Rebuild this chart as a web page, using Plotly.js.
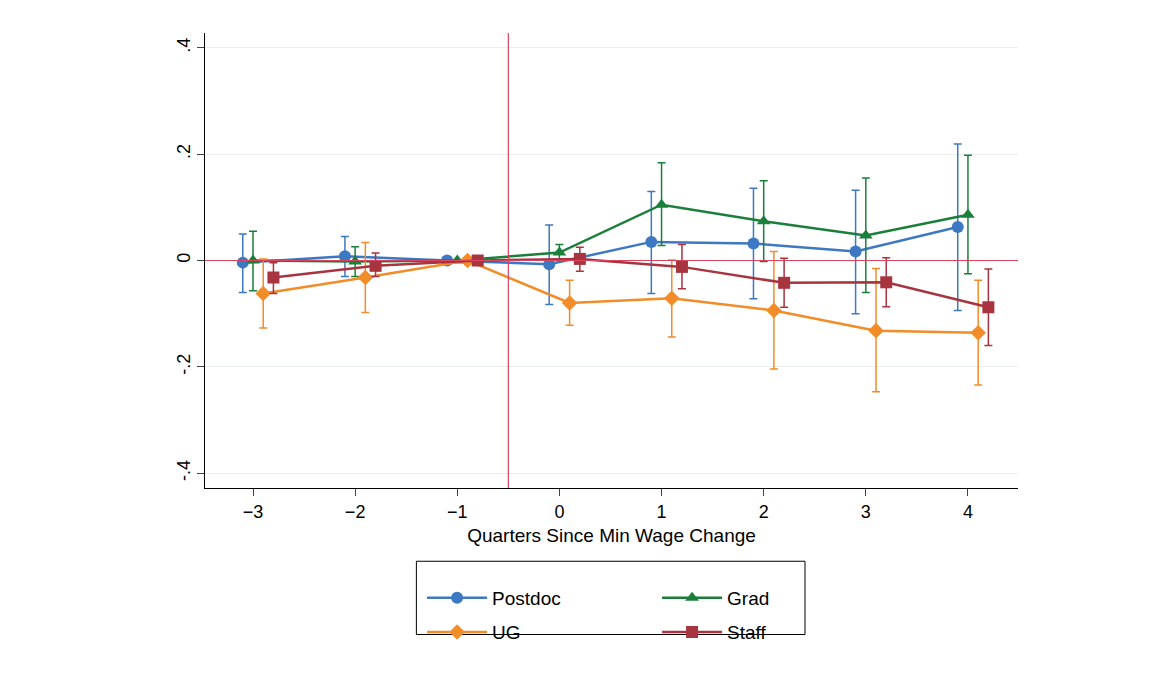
<!DOCTYPE html>
<html>
<head>
<meta charset="utf-8">
<script src="https://cdn.plot.ly/plotly-3.0.1.min.js"></script>
<style>body{margin:0;background:#fff}#chart{width:1163px;height:697px}</style>
</head>
<body>
<div id="chart"></div>
<script>
// quarters relative to the minimum wage change
const quarters = [-3, -2, -1, 0, 1, 2, 3, 4];

const postdoc   = [-0.004, 0.008, 0, -0.007, 0.035, 0.032, 0.017, 0.063];
const postdocHi = [0.050, 0.045, 0, 0.067, 0.130, 0.136, 0.132, 0.219];
const postdocLo = [-0.060, -0.030, 0, -0.083, -0.062, -0.072, -0.100, -0.094];

const grad   = [0, -0.002, 0, 0.015, 0.105, 0.074, 0.047, 0.086];
const gradHi = [0.055, 0.026, 0, 0.030, 0.184, 0.150, 0.155, 0.198];
const gradLo = [-0.057, -0.030, 0, 0.000, 0.028, -0.002, -0.060, -0.025];

const ug   = [-0.062, -0.032, 0, -0.080, -0.071, -0.094, -0.132, -0.136];
const ugHi = [0.003, 0.034, 0, -0.037, 0.001, 0.017, -0.015, -0.037];
const ugLo = [-0.127, -0.098, 0, -0.122, -0.144, -0.204, -0.247, -0.234];

const staff   = [-0.032, -0.010, 0, 0.003, -0.012, -0.042, -0.041, -0.088];
const staffHi = [-0.004, 0.014, 0, 0.025, 0.030, 0.004, 0.005, -0.016];
const staffLo = [-0.062, -0.030, 0, -0.020, -0.053, -0.088, -0.087, -0.160];

function series(name, y, hi, lo, shift, color, symbol, legend) {
  return {
    x: quarters.map(q => q + shift),
    y: y,
    name: name,
    type: 'scatter',
    mode: 'lines+markers',
    legend: legend,
    line: {color: color, width: 2.5},
    marker: {color: color, symbol: symbol, size: 12},
    error_y: {
      type: 'data', symmetric: false,
      array: hi.map((v, i) => v - y[i]),
      arrayminus: lo.map((v, i) => y[i] - v),
      color: color, thickness: 1.5, width: 4
    }
  };
}

const traces = [
  series('Postdoc', postdoc, postdocHi, postdocLo, -0.1, '#3d78c2', 'circle', 'legend'),
  series('Grad', grad, gradHi, gradLo, 0, '#1b7f3b', 'triangle-up', 'legend'),
  series('UG', ug, ugHi, ugLo, 0.1, '#f28c28', 'diamond', 'legend2'),
  series('Staff', staff, staffHi, staffLo, 0.2, '#a83440', 'square', 'legend2')
];

const legendBase = {
  orientation: 'h', xanchor: 'left', x: 0.267, entrywidth: 160,
  font: {size: 19, color: '#000'}, bgcolor: 'rgba(0,0,0,0)', itemwidth: 60
};

const layout = {
  width: 1163, height: 697,
  margin: {l: 205, r: 145, t: 33, b: 209},
  paper_bgcolor: '#fff', plot_bgcolor: '#fff',
  font: {family: 'Liberation Sans, Arial, sans-serif', color: '#000'},
  showlegend: true,
  legend: Object.assign({}, legendBase, {y: -0.2, yanchor: 'top'}),
  legend2: Object.assign({}, legendBase, {y: -0.275, yanchor: 'top'}),
  xaxis: {
    range: [-3.47, 4.49], tickvals: quarters, ticks: 'outside', ticklen: 7,
    showgrid: false, zeroline: false, showline: true, linecolor: '#000',
    tickfont: {size: 18},
    title: {text: 'Quarters Since Min Wage Change', font: {size: 19}, standoff: 8}
  },
  yaxis: {
    range: [-0.428, 0.428], tickvals: [-0.4, -0.2, 0, 0.2, 0.4],
    ticktext: ['-.4', '-.2', '0', '.2', '.4'], tickangle: -90,
    ticks: 'outside', ticklen: 7, showgrid: true, gridcolor: '#eaeeef',
    zeroline: false, showline: true, linecolor: '#000', tickfont: {size: 18}
  },
  shapes: [
    {type: 'line', xref: 'paper', x0: 0, x1: 1, yref: 'y', y0: 0, y1: 0,
     line: {color: '#d9455f', width: 1.2}},
    {type: 'line', xref: 'x', x0: -0.5, x1: -0.5, yref: 'paper', y0: 0, y1: 1,
     line: {color: '#d9455f', width: 1.2}},
    {type: 'rect', xref: 'paper', yref: 'paper', x0: 0.26, x1: 0.738, y0: -0.161, y1: -0.322,
     line: {color: '#000', width: 1}}
  ]
};

Plotly.newPlot('chart', traces, layout, {displayModeBar: false});
</script>
</body>
</html>
